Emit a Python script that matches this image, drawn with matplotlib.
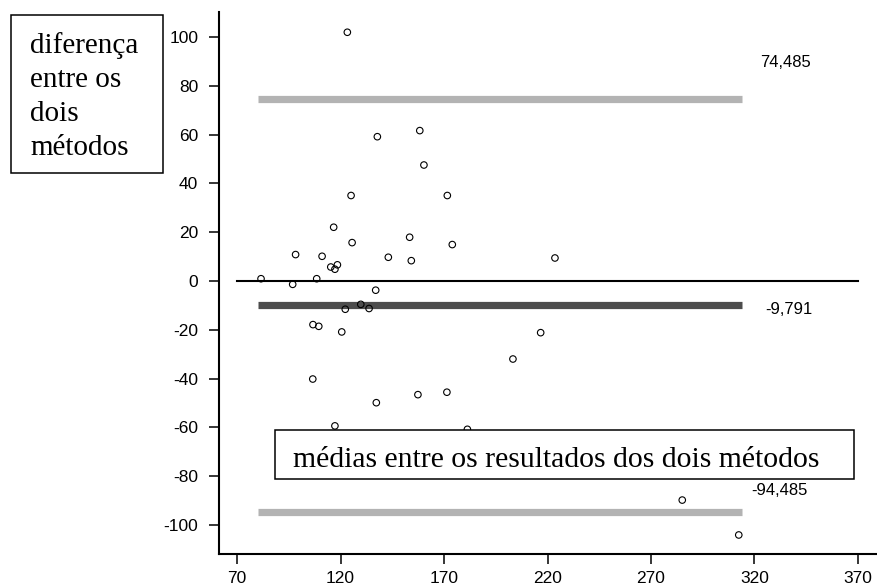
import numpy as np
import matplotlib
matplotlib.use("Agg")
from matplotlib import pyplot as plt
from matplotlib.patches import Rectangle

plt.rcParams["axes.unicode_minus"] = False

# medias (x) e diferencas (y) entre os dois metodos
media = [123.3, 137.8, 158.3, 160.3, 125.1, 171.6, 116.7, 125.6, 153.4, 174.0,
         98.3, 111.1, 143.1, 154.2, 115.3, 118.5, 117.3, 81.6, 108.5, 96.9,
         137.0, 223.6, 129.8, 122.3, 133.8, 106.7, 109.5, 120.6, 216.7, 203.3,
         106.6, 171.4, 157.4, 137.3, 117.3, 181.3, 285.1, 312.4]
diferenca = [101.9, 59.1, 61.6, 47.5, 35.0, 35.0, 22.0, 15.7, 17.9, 14.9,
             10.8, 10.1, 9.7, 8.3, 5.7, 6.6, 4.8, 0.9, 0.9, -1.4,
             -3.8, 9.4, -9.6, -11.6, -11.3, -17.9, -18.6, -20.9, -21.2, -32.0,
             -40.2, -45.6, -46.6, -49.9, -59.4, -60.8, -89.8, -104.1]

limites = [74.485, -9.791, -94.485]
rotulos = ["74,485", "-9,791", "-94,485"]
cores = ["#b3b3b3", "#4d4d4d", "#b3b3b3"]
faixa_x = [80, 314]

xticks = [70, 120, 170, 220, 270, 320, 370]
yticks = [-100, -80, -60, -40, -20, 0, 20, 40, 60, 80, 100]

W, H = 878, 588
fig = plt.figure(figsize=(W / 100, H / 100), dpi=100)
ax = fig.add_axes([219 / W, 1 - 554 / H, (876 - 219) / W, (554 - 12) / H])

sans = "Liberation Sans"
serif = "Liberation Serif"

# linha do zero
ax.plot([xticks[0], xticks[-1]], [0, 0], color="black", lw=1.5, zorder=2)

# media e limites de concordancia
for v, r, c in zip(limites, rotulos, cores):
    ax.plot(faixa_x, [v, v], color=c, lw=5.2, solid_capstyle="butt", zorder=2)

ax.text(322.6, limites[0] + 15, rotulos[0], fontsize=12, family=sans, va="center")
ax.text(325, limites[1] - 2.1, rotulos[1], fontsize=12, family=sans, va="center")
ax.text(318.4, limites[2] + 8.6, rotulos[2], fontsize=12, family=sans, va="center")

ax.scatter(media, diferenca, s=22, facecolors="none", edgecolors="black",
           linewidths=0.8, zorder=3)

ax.set_xlim(61.3, 378.7)
ax.set_ylim(-111.9, 110.2)
ax.set_xticks(xticks)
ax.set_yticks(yticks)
ax.spines["top"].set_visible(False)
ax.spines["right"].set_visible(False)
for s in ["left", "bottom"]:
    ax.spines[s].set_linewidth(1.5)
ax.tick_params(length=7, width=1.1, labelsize=12.5)
ax.tick_params(axis="y", pad=8)
ax.tick_params(axis="x", pad=5.5)
for lab in ax.get_xticklabels() + ax.get_yticklabels():
    lab.set_family(sans)

# caixa do eixo y
fig.patches.append(Rectangle((11 / W, 1 - 173 / H), (163 - 11) / W, (173 - 15) / H,
                             transform=fig.transFigure, facecolor="white",
                             edgecolor="black", lw=1.1, zorder=5))
linhas = ["diferença", "entre os", "dois", "métodos"]
for i, t in enumerate(linhas):
    fig.text(30 / W, 1 - (53.3 + 33.9 * i) / H, t, fontsize=21, family=serif,
             va="baseline", ha="left", zorder=6)

# caixa do eixo x
fig.patches.append(Rectangle((275 / W, 1 - 479 / H), (854 - 275) / W, (479 - 430) / H,
                             transform=fig.transFigure, facecolor="white",
                             edgecolor="black", lw=1.1, zorder=5))
fig.text(293 / W, 1 - 467 / H, "médias entre os resultados dos dois métodos",
         fontsize=21.3, family=serif, va="baseline", ha="left", zorder=6)

fig.savefig("out.png", dpi=100)
